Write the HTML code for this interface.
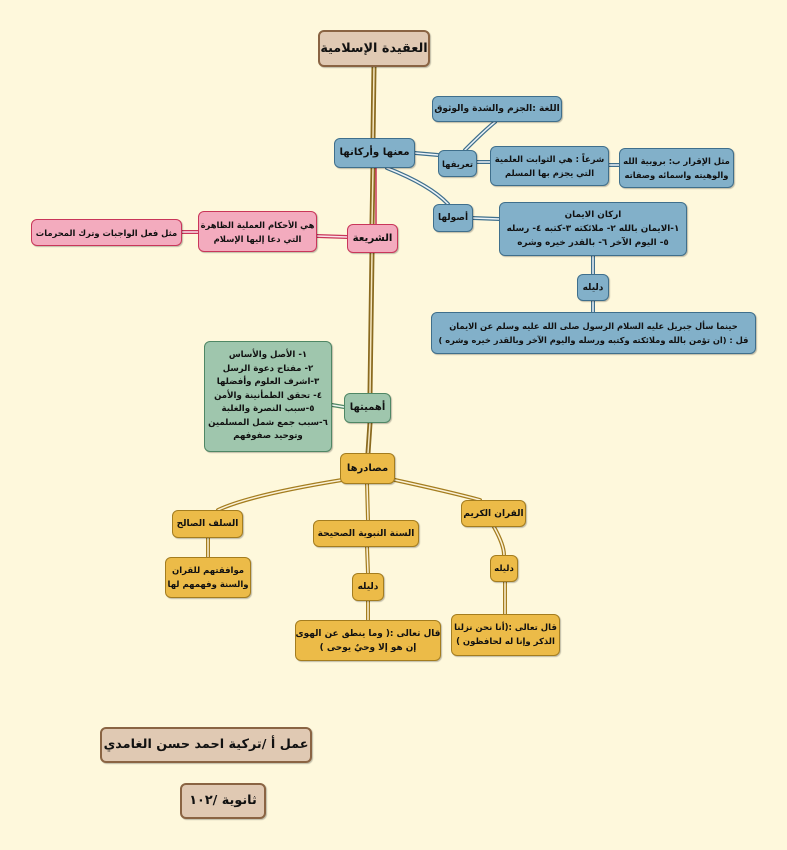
<!DOCTYPE html>
<html><head><meta charset="utf-8">
<style>
html,body{margin:0;padding:0}
body{width:787px;height:850px;background:#fef8dc;position:relative;overflow:hidden;font-family:"DejaVu Sans","Liberation Sans",sans-serif}
svg{position:absolute;left:0;top:0}
.n{position:absolute;box-sizing:border-box;display:flex;align-items:center;justify-content:center;text-align:center;direction:rtl;font-weight:bold;font-size:9px;line-height:14px;color:#111;border-radius:6px;border:1.5px solid;box-shadow:1px 1px 1px rgba(0,0,0,.25);white-space:nowrap;overflow:hidden}
.b{background:#82b0c9;border-color:#3f6f8c}
.p{background:#f3abbe;border-color:#c9365a}
.g{background:#9fc6ad;border-color:#4f8765}
.y{background:#ecbb48;border-color:#a47d1f}
.t{background:#e0c9b3;border-color:#8a6443;border-width:2.5px;font-size:12.8px}
</style></head><body>
<svg width="787" height="850">
<g fill="none" stroke-linecap="round">
<path d="M374 67 L373 138 M373 168 L372 224 M372 253 L370 393 M370 423 L368 453" stroke="#8a6a1f" stroke-width="5"/>
<path d="M374 67 L373 138 M373 168 L372 224 M372 253 L370 393 M370 423 L368 453" stroke="#f4e6c0" stroke-width="1.5"/>
<path d="M376 168 L376 224" stroke="#c9365a" stroke-width="1.5"/>
<g stroke="#3f6f8c" stroke-width="4">
<path d="M415 153 L438 155"/><path d="M465 150 Q485 130 495 122"/><path d="M477 162 L490 162"/><path d="M609 165 L619 165"/>
<path d="M387 168 Q430 185 448 204"/><path d="M473 218 L499 219"/><path d="M593 256 L593 274"/><path d="M593 301 L593 312"/>
</g>
<g stroke="#eef4f8" stroke-width="1.5">
<path d="M415 153 L438 155"/><path d="M465 150 Q485 130 495 122"/><path d="M477 162 L490 162"/><path d="M609 165 L619 165"/>
<path d="M387 168 Q430 185 448 204"/><path d="M473 218 L499 219"/><path d="M593 256 L593 274"/><path d="M593 301 L593 312"/>
</g>
<g stroke="#c9365a" stroke-width="4"><path d="M317 236 L347 237"/><path d="M182 232 L198 232"/></g>
<g stroke="#fbe3ea" stroke-width="1.5"><path d="M317 236 L347 237"/><path d="M182 232 L198 232"/></g>
<path d="M332 405 L344 407" stroke="#4f8765" stroke-width="4"/><path d="M332 405 L344 407" stroke="#eef6f0" stroke-width="1.5"/>
<g stroke="#a47d1f" stroke-width="4">
<path d="M342 480 Q250 495 218 510"/><path d="M367 484 L368 520"/><path d="M395 480 Q450 492 480 500"/>
<path d="M208 538 L208 557"/><path d="M367 547 L368 573"/><path d="M368 601 L368 620"/>
<path d="M494 527 Q504 545 504 555"/><path d="M505 582 L505 614"/>
</g>
<g stroke="#fbf1d6" stroke-width="1.5">
<path d="M342 480 Q250 495 218 510"/><path d="M367 484 L368 520"/><path d="M395 480 Q450 492 480 500"/>
<path d="M208 538 L208 557"/><path d="M367 547 L368 573"/><path d="M368 601 L368 620"/>
<path d="M494 527 Q504 545 504 555"/><path d="M505 582 L505 614"/>
</g>
</g>
</svg>

<div class="n t" style="left:318px;top:30px;width:112px;height:37px">العقيدة الإسلامية</div>

<div class="n b" style="left:334px;top:138px;width:81px;height:30px;font-size:10.2px">معنها وأركانها</div>
<div class="n b" style="left:438px;top:150px;width:39px;height:27px;font-size:8.4px">تعريفها</div>
<div class="n b" style="left:432px;top:96px;width:130px;height:26px;font-size:9px">اللغة :الجزم والشدة والوثوق</div>
<div class="n b" style="left:490px;top:146px;width:119px;height:40px;font-size:8.4px">شرعاً : هي الثوابت العلمية<br>التي يجزم بها المسلم</div>
<div class="n b" style="left:619px;top:148px;width:115px;height:40px;font-size:8.4px">مثل الإقرار ب: بروبية الله<br>والوهيته واسمائه وصفاته</div>
<div class="n b" style="left:433px;top:204px;width:40px;height:28px;font-size:9px">أصولها</div>
<div class="n b" style="left:499px;top:202px;width:188px;height:54px;font-size:8.8px">اركان الايمان<br>١-الايمان بالله ٢- ملائكته ٣-كتبه ٤- رسله<br>٥- اليوم الآخر ٦- بالقدر خيره وشره</div>
<div class="n b" style="left:577px;top:274px;width:32px;height:27px">دليله</div>
<div class="n b" style="left:431px;top:312px;width:325px;height:42px;font-size:8.3px">حينما سأل جبريل عليه السلام الرسول صلى الله عليه وسلم عن الايمان<br>قل : (ان تؤمن بالله وملائكته وكتبه ورسله واليوم الآخر وبالقدر خيره وشره )</div>

<div class="n p" style="left:347px;top:224px;width:51px;height:29px;font-size:10.2px">الشريعة</div>
<div class="n p" style="left:198px;top:211px;width:119px;height:41px;font-size:8.4px">هي الأحكام العملية الظاهرة<br>التي دعا إليها الإسلام</div>
<div class="n p" style="left:31px;top:219px;width:151px;height:27px;font-size:8.4px">مثل فعل الواجبات وترك المحرمات</div>

<div class="n g" style="left:204px;top:341px;width:128px;height:111px;line-height:13.5px;font-size:8.6px">١- الأصل والأساس<br>٢- مفتاح دعوة الرسل<br>٣-اشرف العلوم وأفضلها<br>٤- تحقق الطمأنينة والأمن<br>٥-سبب النصرة والغلبة<br>٦-سبب جمع شمل المسلمين<br>وتوحيد صفوفهم</div>
<div class="n g" style="left:344px;top:393px;width:47px;height:30px;font-size:10px">أهميتها</div>

<div class="n y" style="left:340px;top:453px;width:55px;height:31px;font-size:10px">مصادرها</div>
<div class="n y" style="left:461px;top:500px;width:65px;height:27px;font-size:9px">القران الكريم</div>
<div class="n y" style="left:172px;top:510px;width:71px;height:28px;font-size:9px">السلف الصالح</div>
<div class="n y" style="left:313px;top:520px;width:106px;height:27px;font-size:9px">السنة النبوية الصحيحة</div>
<div class="n y" style="left:490px;top:555px;width:28px;height:27px;font-size:8.5px">دليله</div>
<div class="n y" style="left:352px;top:573px;width:32px;height:28px;font-size:9px">دليله</div>
<div class="n y" style="left:165px;top:557px;width:86px;height:41px;font-size:8.5px">موافقتهم للقران<br>والسنة وفهمهم لها</div>
<div class="n y" style="left:295px;top:620px;width:146px;height:41px;font-size:8.9px">قال تعالى :( وما ينطق عن الهوى<br>إن هو إلا وحيٌ يوحى )</div>
<div class="n y" style="left:451px;top:614px;width:109px;height:42px;font-size:8.5px">قال تعالى :(أنا نحن نزلنا<br>الذكر وإنا له لحافظون )</div>

<div class="n t" style="left:100px;top:727px;width:212px;height:36px;font-size:12.8px">عمل أ  /تركية احمد حسن الغامدي</div>
<div class="n t" style="left:180px;top:783px;width:86px;height:36px;font-size:12.8px">ثانوية /١٠٢</div>
</body></html>
